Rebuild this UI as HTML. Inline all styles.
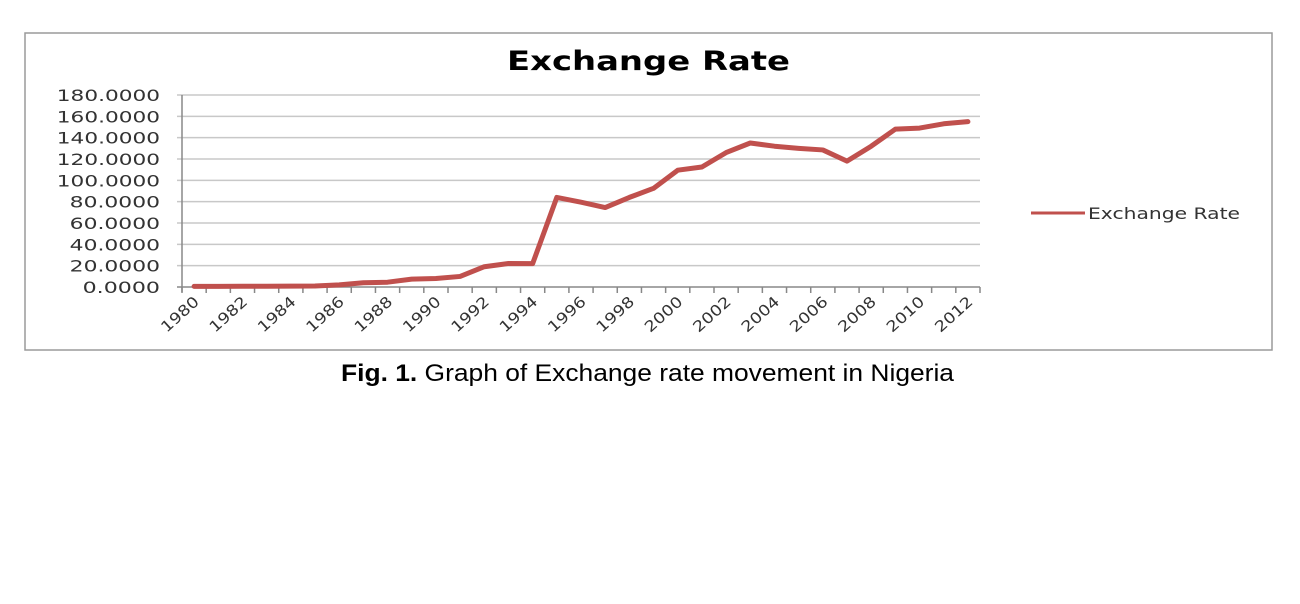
<!DOCTYPE html>
<html><head><meta charset="utf-8"><style>
body{margin:0;background:#fff;width:1300px;height:600px;overflow:hidden;font-family:"DejaVu Sans","Liberation Sans",sans-serif}
</style></head><body>
<svg width="1300" height="600">
<rect x="25" y="33" width="1247" height="317" fill="#fff" stroke="#9a9a9a" stroke-width="1.5"/>
<text x="507" y="70" font-size="27" font-weight="bold" fill="#000" textLength="283" lengthAdjust="spacingAndGlyphs">Exchange Rate</text>
<g id="grid"></g><g id="axes"></g><g id="series"></g>
<line x1="1031" y1="213" x2="1085" y2="213" stroke="#c0504d" stroke-width="3"/>
<text x="1088" y="219" font-size="16" fill="#333" textLength="152" lengthAdjust="spacingAndGlyphs">Exchange Rate</text>
<text x="341" y="381" font-family="Liberation Sans, sans-serif" font-size="24" fill="#000" textLength="613" lengthAdjust="spacingAndGlyphs"><tspan font-weight="bold">Fig. 1.</tspan> Graph of Exchange rate movement in Nigeria</text>
</svg>
<script>
const years=[1980,1981,1982,1983,1984,1985,1986,1987,1988,1989,1990,1991,1992,1993,1994,1995,1996,1997,1998,1999,2000,2001,2002,2003,2004,2005,2006,2007,2008,2009,2010,2011,2012];
const rates=[0.55,0.61,0.67,0.72,0.77,0.89,2.0,4.0,4.5,7.4,8.0,9.9,19.0,22.0,21.9,84.0,79.5,74.5,84.0,92.5,109.5,112.5,126.0,135.0,132.0,130.0,128.5,118.0,132.0,148.0,149.0,153.0,155.0];
const yTicks=[0,20,40,60,80,100,120,140,160,180];
const NS='http://www.w3.org/2000/svg';
const L=182,R=980,T=95,B=287,yMax=180;
const bw=(R-L)/years.length;
const xs=i=>L+bw*(i+0.5);
const ys=v=>B-(v/yMax)*(B-T);
function mk(tag,attrs,parent){const e=document.createElementNS(NS,tag);for(const k in attrs)e.setAttribute(k,attrs[k]);document.getElementById(parent).appendChild(e);return e;}
yTicks.forEach(v=>{
 const g=mk('line',{x1:L-5,x2:R,y1:ys(v),y2:ys(v),stroke:v===0?'#888':'#c8c8c8','stroke-width':1.5},'grid');
 
 
 const s=v.toFixed(4);
 const t=mk('text',{x:L-22,y:ys(v)+6,'text-anchor':'end','font-size':16,fill:'#333',textLength:(s.length*12.9).toFixed(1),lengthAdjust:'spacingAndGlyphs'},'axes');
 t.textContent=s;
 
 
});
const ya=mk('line',{x1:L,x2:L,y1:T,y2:B+5,stroke:'#888','stroke-width':1.5},'axes');


for(let i=0;i<=years.length;i++){
 const tk=mk('line',{x1:L+bw*i,x2:L+bw*i,y1:B,y2:B+6,stroke:'#888','stroke-width':1.5},'axes');
 
 
}
years.forEach((y,i)=>{
 if(i%2)return;
 const x=xs(i)+6,yy=B+16;
 const t=mk('text',{x:x,y:yy,'text-anchor':'end','font-size':15,fill:'#333',textLength:45,lengthAdjust:'spacingAndGlyphs',transform:`rotate(-42 ${x} ${yy})`},'axes');
 t.textContent=y;
 
 
});
const p=mk('polyline',{points:rates.map((v,i)=>xs(i)+','+ys(v)).join(' '),fill:'none',stroke:'#c0504d','stroke-width':5,'stroke-linejoin':'round','stroke-linecap':'round'},'series');


</script>
</body></html>
